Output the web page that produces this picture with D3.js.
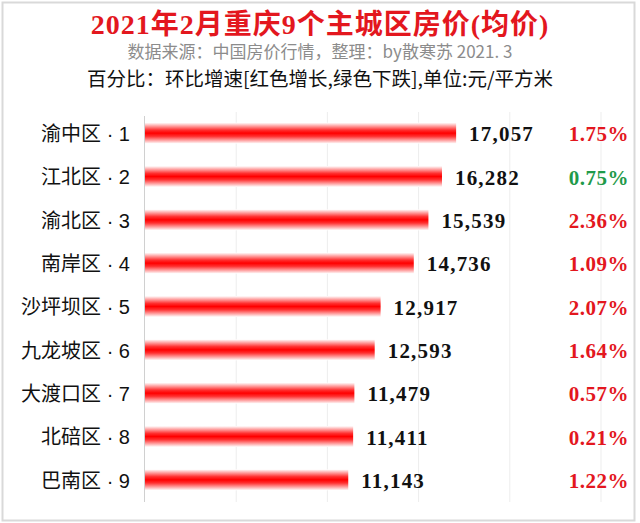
<!DOCTYPE html>
<html>
<head>
<meta charset="utf-8">
<script src="https://cdn.jsdelivr.net/npm/d3@7"></script>
<style>
  body { margin: 0; background: #fff; }
</style>
</head>
<body>
<script>
const districts = ['渝中区', '江北区', '渝北区', '南岸区', '沙坪坝区', '九龙坡区', '大渡口区', '北碚区', '巴南区'];
const prices = [17057, 16282, 15539, 14736, 12917, 12593, 11479, 11411, 11143];
const changes = [1.75, 0.75, 2.36, 1.09, 2.07, 1.64, 0.57, 0.21, 1.22];
const isDown = [false, true, false, false, false, false, false, false, false];
const gridTicks = [0, 5000, 10000, 15000, 20000, 25000];

const W = 640, H = 523;
const margin = {top: 112, right: 10, bottom: 21, left: 145};

const svg = d3.select('body').append('svg')
    .attr('width', W)
    .attr('height', H);

// outer frame
svg.append('rect')
    .attr('x', 2.5).attr('y', 2.5)
    .attr('width', 632).attr('height', 518)
    .attr('fill', '#fff')
    .attr('stroke', '#d9d9d9')
    .attr('stroke-width', 2);

// bar gradient (white - red - white)
const grad = svg.append('defs').append('linearGradient')
    .attr('id', 'barGrad')
    .attr('x1', 0).attr('y1', 0).attr('x2', 0).attr('y2', 1);
grad.append('stop').attr('offset', '0%').attr('stop-color', '#ffffff');
grad.append('stop').attr('offset', '35%').attr('stop-color', '#ff3030');
grad.append('stop').attr('offset', '50%').attr('stop-color', '#ff0000');
grad.append('stop').attr('offset', '65%').attr('stop-color', '#ff3030');
grad.append('stop').attr('offset', '100%').attr('stop-color', '#ffffff');

const x = d3.scaleLinear()
    .domain([0, 25000])
    .range([margin.left, margin.left + 456]);

const y = d3.scaleBand()
    .domain(districts)
    .range([margin.top, H - margin.bottom])
    .padding(0);

// titles
svg.append('text')
    .attr('x', 320).attr('y', 34)
    .attr('text-anchor', 'middle')
    .attr('fill', '#e3171e')
    .style('font-family', '"Liberation Serif", "Noto Sans CJK SC", serif')
    .style('font-weight', 'bold')
    .style('font-size', '28px')
    .style('letter-spacing', '1px')
    .text('2021年2月重庆9个主城区房价(均价)');

svg.append('text')
    .attr('x', 320).attr('y', 58)
    .attr('text-anchor', 'middle')
    .attr('fill', '#8c8c8c')
    .style('font-family', '"Noto Sans CJK SC", sans-serif')
    .style('font-size', '17px')
    .text('数据来源：中国房价行情，整理：by散寒苏  2021. 3');

svg.append('text')
    .attr('x', 320).attr('y', 86)
    .attr('text-anchor', 'middle')
    .attr('fill', '#111')
    .style('font-family', '"Noto Sans CJK SC", sans-serif')
    .style('font-size', '19.5px')
    .text('百分比：环比增速[红色增长,绿色下跌],单位:元/平方米');

// gridlines
svg.append('g')
    .selectAll('line')
    .data(gridTicks.slice(1))
    .enter().append('line')
    .attr('x1', d => x(d)).attr('x2', d => x(d))
    .attr('y1', margin.top).attr('y2', H - margin.bottom)
    .attr('stroke', '#ededed')
    .attr('stroke-width', 1);

// axis line
svg.append('line')
    .attr('x1', x(0) - 0.5).attr('x2', x(0) - 0.5)
    .attr('y1', margin.top + 4).attr('y2', H - margin.bottom)
    .attr('stroke', '#d0d0d0');

const rows = svg.append('g')
    .selectAll('g')
    .data(districts)
    .enter().append('g');

// bars
rows.append('rect')
    .attr('x', x(0))
    .attr('y', d => y(d) + y.bandwidth() / 2 - 11)
    .attr('width', (d, i) => x(prices[i]) - x(0))
    .attr('height', 21)
    .attr('fill', 'url(#barGrad)');

// category labels
rows.append('text')
    .attr('x', 130)
    .attr('y', d => y(d) + y.bandwidth() / 2)
    .attr('dy', '0.36em')
    .attr('text-anchor', 'end')
    .attr('fill', '#111')
    .style('font-family', '"Liberation Sans", "Noto Sans CJK SC", sans-serif')
    .style('font-size', '20px')
    .text((d, i) => d + ' · ' + (i + 1));

// value labels
rows.append('text')
    .attr('x', (d, i) => x(prices[i]) + 13)
    .attr('y', d => y(d) + y.bandwidth() / 2)
    .attr('dy', '0.36em')
    .attr('fill', '#111')
    .style('font-family', '"Liberation Serif", serif')
    .style('font-weight', 'bold')
    .style('font-size', '21px')
    .style('letter-spacing', '1.2px')
    .text((d, i) => d3.format(',')(prices[i]));

// percentage labels
rows.append('text')
    .attr('x', 629)
    .attr('y', d => y(d) + y.bandwidth() / 2)
    .attr('dy', '0.36em')
    .attr('text-anchor', 'end')
    .attr('fill', (d, i) => isDown[i] ? '#1f9a4a' : '#e3171e')
    .style('font-family', '"Liberation Serif", serif')
    .style('font-weight', 'bold')
    .style('font-size', '21px')
    .style('letter-spacing', '0.5px')
    .text((d, i) => changes[i].toFixed(2) + '%');
</script>
</body>
</html>
